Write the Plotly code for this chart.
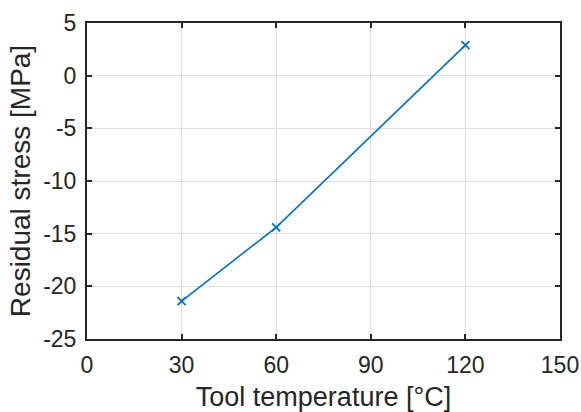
import plotly.graph_objects as go

temperature = [30, 60, 120]
residual_stress = [-21.4, -14.4, 2.9]
x_ticks = [0, 30, 60, 90, 120, 150]
y_ticks = [5, 0, -5, -10, -15, -20, -25]

FONT = "Liberation Sans, Arial"
fig = go.Figure()
fig.add_trace(go.Scatter(
    x=temperature, y=residual_stress, mode="lines+markers",
    line=dict(color="#0072BD", width=1.6),
    marker=dict(symbol="x-thin-open", size=8, line=dict(color="#0072BD", width=1.8)),
))

axis_common = dict(
    showline=True, linecolor="#262626", linewidth=2, mirror="ticks",
    ticks="inside", ticklen=5, tickwidth=2, tickcolor="#262626",
    showgrid=True, gridcolor="#dedede", gridwidth=1, zeroline=False,
    tickfont=dict(family=FONT, size=23, color="#262626"), automargin=False,
)

fig.update_xaxes(range=[0, 150], tickvals=x_ticks, **axis_common, ticklabelstandoff=4,
                 title=dict(text="Tool temperature [°C]", standoff=13,
                            font=dict(family=FONT, size=27, color="#262626")))
fig.update_yaxes(range=[-25, 5], tickvals=y_ticks, ticktext=[str(v) for v in y_ticks], **axis_common,
                 ticklabelstandoff=4,
                 title=dict(text="Residual stress [MPa]", standoff=4,
                            font=dict(family=FONT, size=28, color="#262626")))

fig.update_layout(
    width=581, height=412, margin=dict(l=87, r=21, t=23, b=73),
    plot_bgcolor="white", paper_bgcolor="white", showlegend=False,
)
fig.write_html("out.html")
